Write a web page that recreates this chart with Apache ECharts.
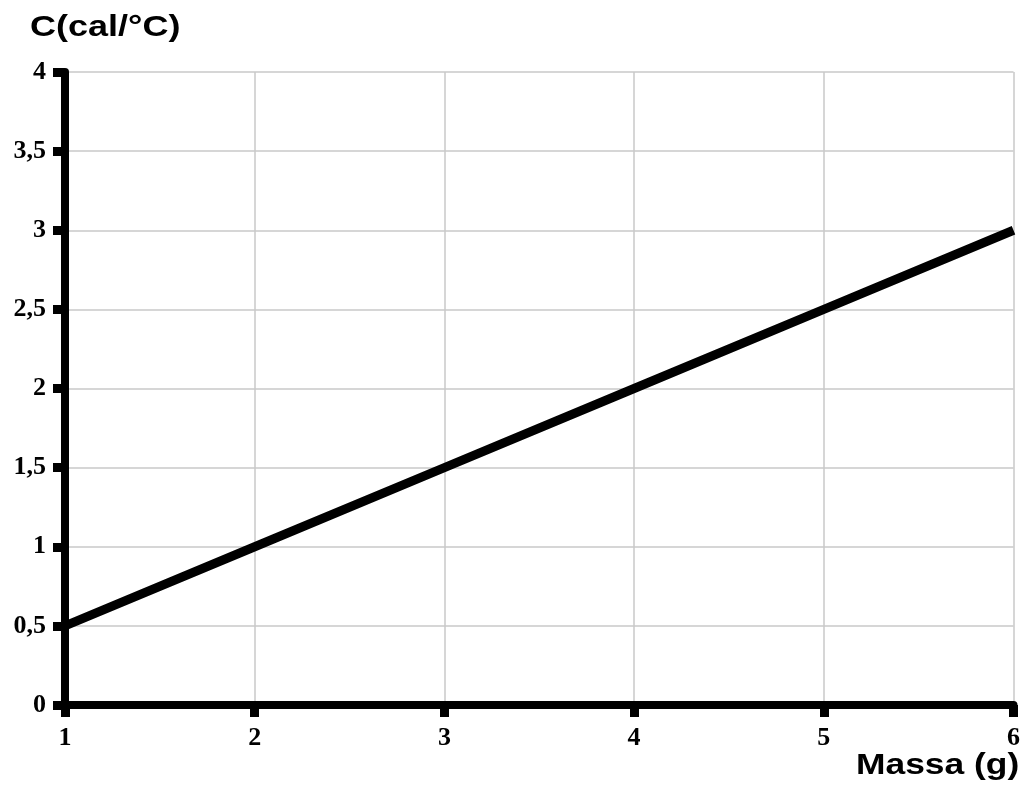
<!DOCTYPE html>
<html>
<head>
<meta charset="utf-8">
<script src="https://cdn.jsdelivr.net/npm/echarts@6/dist/echarts.min.js"></script>
<style>html,body{margin:0;padding:0;background:#fff;}#c{width:1023px;height:785px;}</style>
</head>
<body>
<div id="c"></div>
<script>
var massa = [1, 2, 3, 4, 5, 6];
var capacidade = [0.5, 1, 1.5, 2, 2.5, 3];
var yTitle = 'C(cal/°C)';
var xTitle = 'Massa (g)';

var chart = echarts.init(document.getElementById('c'));
var labelFont = {fontFamily: 'Liberation Serif', fontWeight: 'bold', fontSize: 26, color: '#000'};
chart.setOption({
  animation: false,
  backgroundColor: '#fff',
  grid: {left: 65, right: 5, top: 72, bottom: 80, containLabel: false},
  xAxis: {
    type: 'value', min: 1, max: 6, interval: 1,
    axisLine: {show: true, onZero: false, lineStyle: {color: '#000', width: 8}},
    axisTick: {show: true, length: 12, lineStyle: {color: '#000', width: 9}},
    axisLabel: Object.assign({margin: 20, formatter: function(v){return String(v);}}, labelFont),
    splitLine: {show: true, lineStyle: {color: '#c8c8c8', width: 1.5}}
  },
  yAxis: {
    type: 'value', min: 0, max: 4, interval: 0.5,
    axisLine: {show: true, lineStyle: {color: '#000', width: 8}},
    axisTick: {show: true, length: 12, lineStyle: {color: '#000', width: 9}},
    axisLabel: Object.assign({margin: 19, formatter: function(v){return String(v).replace('.', ',');}}, labelFont),
    splitLine: {show: true, lineStyle: {color: '#c8c8c8', width: 1.5}}
  },
  series: [{
    type: 'line',
    data: massa.map(function(m, i){return [m, capacidade[i]];}),
    showSymbol: false,
    symbol: 'none',
    lineStyle: {color: '#000', width: 9},
    z: 5
  }],
  graphic: [
    {type: 'text', left: 30, top: 13, scaleX: 1.2, style: {text: yTitle, font: 'bold 30px "Liberation Sans", Arial, sans-serif', fill: '#000'}},
    {type: 'text', left: 856, top: 751, scaleX: 1.18, style: {text: xTitle, font: 'bold 30px "Liberation Sans", Arial, sans-serif', fill: '#000'}}
  ]
});
</script>
</body>
</html>
